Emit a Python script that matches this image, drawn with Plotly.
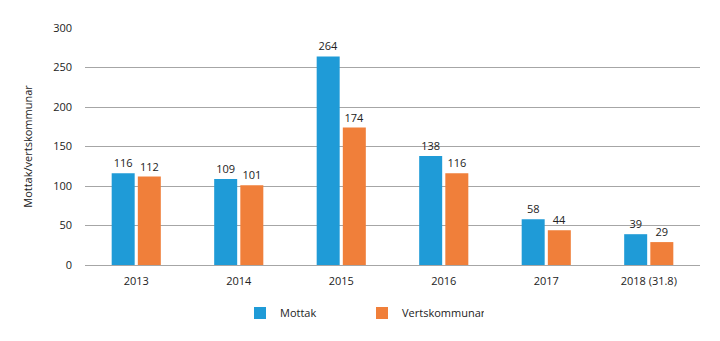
import plotly.graph_objects as go

categories = ["2013", "2014", "2015", "2016", "2017", "2018 (31.8)"]
mottak = [116, 109, 264, 138, 58, 39]
vertskommunar = [112, 101, 174, 116, 44, 29]

font_family = "Open Sans, Noto Sans, sans-serif"
text_color = "#222222"

fig = go.Figure()
fig.add_trace(go.Bar(
    x=categories, y=mottak, name="Mottak",
    marker=dict(color="#1F9BD7", line=dict(width=0)),
    text=mottak, textposition="outside",
    textfont=dict(size=11, color=text_color, family=font_family),
    cliponaxis=False,
))
fig.add_trace(go.Bar(
    x=categories, y=vertskommunar, name="Vertskommunar",
    marker=dict(color="#F07F3A", line=dict(width=0)),
    text=vertskommunar, textposition="outside",
    textfont=dict(size=11, color=text_color, family=font_family),
    cliponaxis=False,
))

fig.update_layout(
    width=720, height=341,
    margin=dict(l=85, r=20, t=28, b=76, autoexpand=False),
    paper_bgcolor="white", plot_bgcolor="white",
    barmode="group", bargap=0.49, bargroupgap=0.12,
    font=dict(family=font_family, size=11, color=text_color),
    showlegend=True,
    legend=dict(orientation="h", xref="container", yref="container",
                x=240 / 720, xanchor="left", y=1 - 313 / 341, yanchor="middle",
                font=dict(size=11, color=text_color),
                entrywidth=77, entrywidthmode="pixels",
                traceorder="normal"),
    xaxis=dict(showgrid=False, showline=False, ticks="", tickfont=dict(size=11),
               ticklabelstandoff=8, automargin=False),
    yaxis=dict(range=[0, 300], dtick=50, showgrid=True, gridcolor="#A6A6A6",
               gridwidth=1, zeroline=True, zerolinecolor="#A6A6A6", zerolinewidth=1,
               showline=False, ticks="", tickfont=dict(size=11),
               ticklabelstandoff=12, automargin=False,
               title=dict(text="Mottak/vertskommunar", font=dict(size=11), standoff=18)),
)

fig.write_html("out.html")
